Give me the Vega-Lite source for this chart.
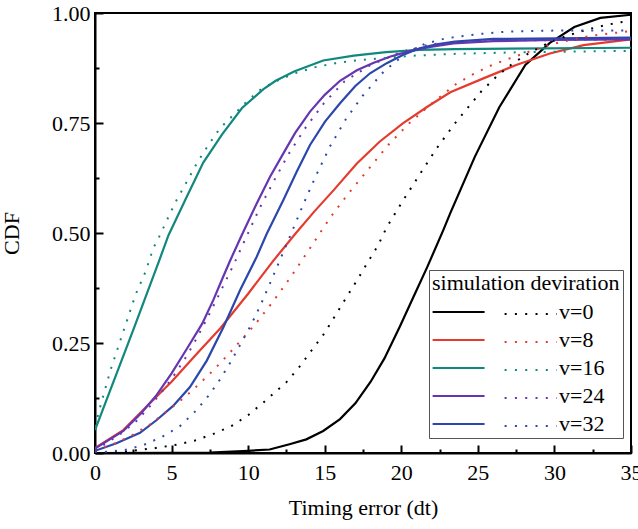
{
  "$schema": "https://vega.github.io/schema/vega-lite/v6.json",
  "width": 536,
  "height": 440,
  "autosize": {"type": "none"},
  "padding": {"left": 95, "top": 13, "right": 7, "bottom": 76},
  "background": "white",
  "config": {
    "font": "Liberation Serif",
    "view": {"stroke": "black", "strokeWidth": 2},
    "axis": {
      "domainColor": "black", "domainWidth": 2,
      "tickColor": "black", "tickWidth": 2,
      "labelFont": "Liberation Serif", "labelFontSize": 22, "labelColor": "black",
      "titleFont": "Liberation Serif", "titleFontSize": 22, "titleFontWeight": "normal", "titleColor": "black",
      "grid": false, "labelFlush": false, "labelOverlap": false
    },
    "legend": {
      "labelFont": "Liberation Serif", "labelFontSize": 22, "labelColor": "black",
      "titleFont": "Liberation Serif", "titleFontSize": 22, "titleFontWeight": "normal", "titleColor": "black",
      "titleLimit": 400, "labelLimit": 200
    }
  },
  "data": {"values": [
    {"x":0,"y":0,"v":"v=0","k":"sim"},{"x":5,"y":0.0005,"v":"v=0","k":"sim"},{"x":7.5,"y":0.001,"v":"v=0","k":"sim"},{"x":10,"y":0.005,"v":"v=0","k":"sim"},{"x":11.4,"y":0.008,"v":"v=0","k":"sim"},{"x":12.7,"y":0.02,"v":"v=0","k":"sim"},{"x":13.8,"y":0.031,"v":"v=0","k":"sim"},{"x":14.9,"y":0.05,"v":"v=0","k":"sim"},{"x":16,"y":0.077,"v":"v=0","k":"sim"},{"x":17,"y":0.113,"v":"v=0","k":"sim"},{"x":18,"y":0.162,"v":"v=0","k":"sim"},{"x":18.9,"y":0.215,"v":"v=0","k":"sim"},{"x":19.9,"y":0.287,"v":"v=0","k":"sim"},{"x":20.8,"y":0.355,"v":"v=0","k":"sim"},{"x":21.7,"y":0.423,"v":"v=0","k":"sim"},{"x":22.75,"y":0.507,"v":"v=0","k":"sim"},{"x":23.2,"y":0.545,"v":"v=0","k":"sim"},{"x":24.8,"y":0.673,"v":"v=0","k":"sim"},{"x":26.4,"y":0.786,"v":"v=0","k":"sim"},{"x":28.1,"y":0.882,"v":"v=0","k":"sim"},{"x":29.7,"y":0.932,"v":"v=0","k":"sim"},{"x":31.3,"y":0.968,"v":"v=0","k":"sim"},{"x":33,"y":0.989,"v":"v=0","k":"sim"},{"x":35,"y":0.996,"v":"v=0","k":"sim"},

    {"x":0,"y":0,"v":"v=0","k":"dev"},{"x":2,"y":0.003,"v":"v=0","k":"dev"},{"x":3.9,"y":0.011,"v":"v=0","k":"dev"},{"x":5.2,"y":0.018,"v":"v=0","k":"dev"},{"x":6.5,"y":0.028,"v":"v=0","k":"dev"},{"x":7.7,"y":0.043,"v":"v=0","k":"dev"},{"x":8.9,"y":0.061,"v":"v=0","k":"dev"},{"x":10,"y":0.086,"v":"v=0","k":"dev"},{"x":11,"y":0.115,"v":"v=0","k":"dev"},{"x":12.5,"y":0.161,"v":"v=0","k":"dev"},{"x":13.4,"y":0.198,"v":"v=0","k":"dev"},{"x":14.2,"y":0.236,"v":"v=0","k":"dev"},{"x":15,"y":0.273,"v":"v=0","k":"dev"},{"x":15.7,"y":0.313,"v":"v=0","k":"dev"},{"x":16.4,"y":0.353,"v":"v=0","k":"dev"},{"x":17.1,"y":0.392,"v":"v=0","k":"dev"},{"x":17.8,"y":0.433,"v":"v=0","k":"dev"},{"x":18.5,"y":0.473,"v":"v=0","k":"dev"},{"x":19.05,"y":0.513,"v":"v=0","k":"dev"},{"x":20.1,"y":0.573,"v":"v=0","k":"dev"},{"x":21.2,"y":0.633,"v":"v=0","k":"dev"},{"x":22.3,"y":0.692,"v":"v=0","k":"dev"},{"x":23.5,"y":0.749,"v":"v=0","k":"dev"},{"x":24.4,"y":0.787,"v":"v=0","k":"dev"},{"x":25.25,"y":0.823,"v":"v=0","k":"dev"},{"x":26.2,"y":0.855,"v":"v=0","k":"dev"},{"x":27.3,"y":0.886,"v":"v=0","k":"dev"},{"x":28.4,"y":0.91,"v":"v=0","k":"dev"},{"x":29.65,"y":0.933,"v":"v=0","k":"dev"},{"x":30.8,"y":0.948,"v":"v=0","k":"dev"},{"x":32.1,"y":0.962,"v":"v=0","k":"dev"},{"x":33.4,"y":0.973,"v":"v=0","k":"dev"},{"x":35,"y":0.983,"v":"v=0","k":"dev"},

    {"x":0,"y":0.011,"v":"v=8","k":"sim"},{"x":1.85,"y":0.052,"v":"v=8","k":"sim"},{"x":3.5,"y":0.11,"v":"v=8","k":"sim"},{"x":5,"y":0.162,"v":"v=8","k":"sim"},{"x":6.5,"y":0.22,"v":"v=8","k":"sim"},{"x":8.2,"y":0.284,"v":"v=8","k":"sim"},{"x":10,"y":0.362,"v":"v=8","k":"sim"},{"x":11.6,"y":0.435,"v":"v=8","k":"sim"},{"x":13,"y":0.495,"v":"v=8","k":"sim"},{"x":14.3,"y":0.548,"v":"v=8","k":"sim"},{"x":15.6,"y":0.598,"v":"v=8","k":"sim"},{"x":17.1,"y":0.658,"v":"v=8","k":"sim"},{"x":18.6,"y":0.708,"v":"v=8","k":"sim"},{"x":20.1,"y":0.749,"v":"v=8","k":"sim"},{"x":21.7,"y":0.787,"v":"v=8","k":"sim"},{"x":23.2,"y":0.82,"v":"v=8","k":"sim"},{"x":25.4,"y":0.852,"v":"v=8","k":"sim"},{"x":27.5,"y":0.882,"v":"v=8","k":"sim"},{"x":29.7,"y":0.908,"v":"v=8","k":"sim"},{"x":31.9,"y":0.927,"v":"v=8","k":"sim"},{"x":35,"y":0.94,"v":"v=8","k":"sim"},

    {"x":0,"y":0.005,"v":"v=8","k":"dev"},{"x":1.2,"y":0.02,"v":"v=8","k":"dev"},{"x":2.4,"y":0.04,"v":"v=8","k":"dev"},{"x":3.6,"y":0.065,"v":"v=8","k":"dev"},{"x":4.7,"y":0.095,"v":"v=8","k":"dev"},{"x":5.8,"y":0.125,"v":"v=8","k":"dev"},{"x":6.75,"y":0.155,"v":"v=8","k":"dev"},{"x":7.7,"y":0.187,"v":"v=8","k":"dev"},{"x":8.6,"y":0.22,"v":"v=8","k":"dev"},{"x":9.5,"y":0.255,"v":"v=8","k":"dev"},{"x":10.4,"y":0.29,"v":"v=8","k":"dev"},{"x":11.6,"y":0.343,"v":"v=8","k":"dev"},{"x":12.8,"y":0.401,"v":"v=8","k":"dev"},{"x":13.9,"y":0.458,"v":"v=8","k":"dev"},{"x":14.65,"y":0.498,"v":"v=8","k":"dev"},{"x":15.4,"y":0.537,"v":"v=8","k":"dev"},{"x":16.6,"y":0.592,"v":"v=8","k":"dev"},{"x":17.9,"y":0.647,"v":"v=8","k":"dev"},{"x":19.15,"y":0.7,"v":"v=8","k":"dev"},{"x":20.5,"y":0.749,"v":"v=8","k":"dev"},{"x":22.05,"y":0.796,"v":"v=8","k":"dev"},{"x":23.6,"y":0.839,"v":"v=8","k":"dev"},{"x":24.8,"y":0.863,"v":"v=8","k":"dev"},{"x":26,"y":0.883,"v":"v=8","k":"dev"},{"x":27.25,"y":0.899,"v":"v=8","k":"dev"},{"x":28.5,"y":0.914,"v":"v=8","k":"dev"},{"x":29.8,"y":0.929,"v":"v=8","k":"dev"},{"x":31.7,"y":0.944,"v":"v=8","k":"dev"},{"x":33,"y":0.951,"v":"v=8","k":"dev"},{"x":35,"y":0.959,"v":"v=8","k":"dev"},

    {"x":0,"y":0.052,"v":"v=16","k":"sim"},{"x":2.5,"y":0.28,"v":"v=16","k":"sim"},{"x":4.24,"y":0.442,"v":"v=16","k":"sim"},{"x":4.8,"y":0.495,"v":"v=16","k":"sim"},{"x":6,"y":0.583,"v":"v=16","k":"sim"},{"x":7.07,"y":0.66,"v":"v=16","k":"sim"},{"x":8.3,"y":0.724,"v":"v=16","k":"sim"},{"x":9.6,"y":0.784,"v":"v=16","k":"sim"},{"x":11,"y":0.827,"v":"v=16","k":"sim"},{"x":11.8,"y":0.846,"v":"v=16","k":"sim"},{"x":13,"y":0.867,"v":"v=16","k":"sim"},{"x":14.9,"y":0.892,"v":"v=16","k":"sim"},{"x":16.9,"y":0.903,"v":"v=16","k":"sim"},{"x":19,"y":0.911,"v":"v=16","k":"sim"},{"x":21.2,"y":0.916,"v":"v=16","k":"sim"},{"x":23.5,"y":0.918,"v":"v=16","k":"sim"},{"x":35,"y":0.921,"v":"v=16","k":"sim"},

    {"x":0,"y":0.06,"v":"v=16","k":"dev"},{"x":0.3,"y":0.1,"v":"v=16","k":"dev"},{"x":1,"y":0.187,"v":"v=16","k":"dev"},{"x":1.85,"y":0.276,"v":"v=16","k":"dev"},{"x":2.65,"y":0.36,"v":"v=16","k":"dev"},{"x":3.3,"y":0.412,"v":"v=16","k":"dev"},{"x":3.8,"y":0.465,"v":"v=16","k":"dev"},{"x":4.24,"y":0.495,"v":"v=16","k":"dev"},{"x":4.8,"y":0.537,"v":"v=16","k":"dev"},{"x":5.33,"y":0.575,"v":"v=16","k":"dev"},{"x":6,"y":0.617,"v":"v=16","k":"dev"},{"x":6.64,"y":0.658,"v":"v=16","k":"dev"},{"x":7.4,"y":0.7,"v":"v=16","k":"dev"},{"x":8.16,"y":0.738,"v":"v=16","k":"dev"},{"x":9.03,"y":0.768,"v":"v=16","k":"dev"},{"x":10,"y":0.802,"v":"v=16","k":"dev"},{"x":10.77,"y":0.825,"v":"v=16","k":"dev"},{"x":11.75,"y":0.844,"v":"v=16","k":"dev"},{"x":13.06,"y":0.863,"v":"v=16","k":"dev"},{"x":14.4,"y":0.877,"v":"v=16","k":"dev"},{"x":15.7,"y":0.886,"v":"v=16","k":"dev"},{"x":17,"y":0.892,"v":"v=16","k":"dev"},{"x":18.3,"y":0.896,"v":"v=16","k":"dev"},{"x":20.8,"y":0.903,"v":"v=16","k":"dev"},{"x":23.4,"y":0.907,"v":"v=16","k":"dev"},{"x":28,"y":0.911,"v":"v=16","k":"dev"},{"x":35,"y":0.914,"v":"v=16","k":"dev"},

    {"x":0,"y":0.01,"v":"v=24","k":"sim"},{"x":1.85,"y":0.05,"v":"v=24","k":"sim"},{"x":3,"y":0.09,"v":"v=24","k":"sim"},{"x":4.03,"y":0.132,"v":"v=24","k":"sim"},{"x":5,"y":0.181,"v":"v=24","k":"sim"},{"x":6,"y":0.237,"v":"v=24","k":"sim"},{"x":7,"y":0.294,"v":"v=24","k":"sim"},{"x":7.73,"y":0.348,"v":"v=24","k":"sim"},{"x":8.3,"y":0.395,"v":"v=24","k":"sim"},{"x":8.82,"y":0.437,"v":"v=24","k":"sim"},{"x":9.58,"y":0.495,"v":"v=24","k":"sim"},{"x":10.56,"y":0.567,"v":"v=24","k":"sim"},{"x":11.43,"y":0.628,"v":"v=24","k":"sim"},{"x":12.3,"y":0.681,"v":"v=24","k":"sim"},{"x":13.06,"y":0.727,"v":"v=24","k":"sim"},{"x":14.04,"y":0.776,"v":"v=24","k":"sim"},{"x":15,"y":0.814,"v":"v=24","k":"sim"},{"x":16,"y":0.846,"v":"v=24","k":"sim"},{"x":17.1,"y":0.87,"v":"v=24","k":"sim"},{"x":18.2,"y":0.887,"v":"v=24","k":"sim"},{"x":19.3,"y":0.901,"v":"v=24","k":"sim"},{"x":20.6,"y":0.914,"v":"v=24","k":"sim"},{"x":21.9,"y":0.923,"v":"v=24","k":"sim"},{"x":23.4,"y":0.931,"v":"v=24","k":"sim"},{"x":26,"y":0.936,"v":"v=24","k":"sim"},{"x":30,"y":0.939,"v":"v=24","k":"sim"},{"x":35,"y":0.94,"v":"v=24","k":"sim"},

    {"x":0,"y":0.005,"v":"v=24","k":"dev"},{"x":1.74,"y":0.045,"v":"v=24","k":"dev"},{"x":2.72,"y":0.073,"v":"v=24","k":"dev"},{"x":3.63,"y":0.108,"v":"v=24","k":"dev"},{"x":4.46,"y":0.143,"v":"v=24","k":"dev"},{"x":5.29,"y":0.183,"v":"v=24","k":"dev"},{"x":6.03,"y":0.223,"v":"v=24","k":"dev"},{"x":6.68,"y":0.263,"v":"v=24","k":"dev"},{"x":7.29,"y":0.304,"v":"v=24","k":"dev"},{"x":7.9,"y":0.346,"v":"v=24","k":"dev"},{"x":8.49,"y":0.388,"v":"v=24","k":"dev"},{"x":9.08,"y":0.43,"v":"v=24","k":"dev"},{"x":9.64,"y":0.473,"v":"v=24","k":"dev"},{"x":10.77,"y":0.558,"v":"v=24","k":"dev"},{"x":11.69,"y":0.619,"v":"v=24","k":"dev"},{"x":12.67,"y":0.681,"v":"v=24","k":"dev"},{"x":13.76,"y":0.74,"v":"v=24","k":"dev"},{"x":14.95,"y":0.795,"v":"v=24","k":"dev"},{"x":16.3,"y":0.845,"v":"v=24","k":"dev"},{"x":18,"y":0.882,"v":"v=24","k":"dev"},{"x":19.9,"y":0.91,"v":"v=24","k":"dev"},{"x":21.9,"y":0.929,"v":"v=24","k":"dev"},{"x":25,"y":0.937,"v":"v=24","k":"dev"},{"x":35,"y":0.94,"v":"v=24","k":"dev"},

    {"x":0,"y":0.005,"v":"v=32","k":"sim"},{"x":1.4,"y":0.022,"v":"v=32","k":"sim"},{"x":2.94,"y":0.046,"v":"v=32","k":"sim"},{"x":4.03,"y":0.075,"v":"v=32","k":"sim"},{"x":5.1,"y":0.107,"v":"v=32","k":"sim"},{"x":6.2,"y":0.15,"v":"v=32","k":"sim"},{"x":7.3,"y":0.21,"v":"v=32","k":"sim"},{"x":8.4,"y":0.287,"v":"v=32","k":"sim"},{"x":9.47,"y":0.37,"v":"v=32","k":"sim"},{"x":10.56,"y":0.446,"v":"v=32","k":"sim"},{"x":11.2,"y":0.497,"v":"v=32","k":"sim"},{"x":12.3,"y":0.575,"v":"v=32","k":"sim"},{"x":13.17,"y":0.639,"v":"v=32","k":"sim"},{"x":14.04,"y":0.7,"v":"v=32","k":"sim"},{"x":15.02,"y":0.753,"v":"v=32","k":"sim"},{"x":16,"y":0.795,"v":"v=32","k":"sim"},{"x":17,"y":0.834,"v":"v=32","k":"sim"},{"x":17.96,"y":0.863,"v":"v=32","k":"sim"},{"x":19.05,"y":0.886,"v":"v=32","k":"sim"},{"x":20.13,"y":0.905,"v":"v=32","k":"sim"},{"x":21.2,"y":0.92,"v":"v=32","k":"sim"},{"x":22.3,"y":0.929,"v":"v=32","k":"sim"},{"x":23.5,"y":0.935,"v":"v=32","k":"sim"},{"x":26,"y":0.941,"v":"v=32","k":"sim"},{"x":35,"y":0.944,"v":"v=32","k":"sim"},

    {"x":0,"y":0,"v":"v=32","k":"dev"},{"x":1.96,"y":0.007,"v":"v=32","k":"dev"},{"x":3.16,"y":0.018,"v":"v=32","k":"dev"},{"x":4.4,"y":0.037,"v":"v=32","k":"dev"},{"x":5.55,"y":0.061,"v":"v=32","k":"dev"},{"x":6.53,"y":0.094,"v":"v=32","k":"dev"},{"x":7.41,"y":0.13,"v":"v=32","k":"dev"},{"x":8.16,"y":0.167,"v":"v=32","k":"dev"},{"x":8.88,"y":0.208,"v":"v=32","k":"dev"},{"x":9.53,"y":0.249,"v":"v=32","k":"dev"},{"x":10.19,"y":0.291,"v":"v=32","k":"dev"},{"x":10.77,"y":0.333,"v":"v=32","k":"dev"},{"x":11.57,"y":0.397,"v":"v=32","k":"dev"},{"x":12.63,"y":0.484,"v":"v=32","k":"dev"},{"x":13.65,"y":0.569,"v":"v=32","k":"dev"},{"x":14.48,"y":0.634,"v":"v=32","k":"dev"},{"x":15.35,"y":0.697,"v":"v=32","k":"dev"},{"x":16.37,"y":0.758,"v":"v=32","k":"dev"},{"x":17.48,"y":0.812,"v":"v=32","k":"dev"},{"x":18.83,"y":0.866,"v":"v=32","k":"dev"},{"x":20.35,"y":0.91,"v":"v=32","k":"dev"},{"x":21.55,"y":0.93,"v":"v=32","k":"dev"},{"x":22.85,"y":0.942,"v":"v=32","k":"dev"},{"x":25,"y":0.952,"v":"v=32","k":"dev"},{"x":27,"y":0.958,"v":"v=32","k":"dev"},{"x":30,"y":0.96,"v":"v=32","k":"dev"},{"x":35,"y":0.96,"v":"v=32","k":"dev"}
  ]},
  "encoding": {
    "x": {
      "field": "x", "type": "quantitative",
      "scale": {"domain": [0, 35], "nice": false, "zero": false},
      "axis": {
        "title": "Timing error (dt)",
        "values": [0,2.5,5,7.5,10,12.5,15,17.5,20,22.5,25,27.5,30,32.5,35],
        "labelExpr": "datum.value % 5 === 0 ? format(datum.value, 'd') : ''",
        "tickSize": {"condition": {"test": "datum.value % 5 === 0", "value": -8}, "value": -4},
        "labelPadding": 17,
        "titlePadding": 10
      }
    },
    "y": {
      "field": "y", "type": "quantitative",
      "scale": {"domain": [0, 1], "nice": false, "zero": false},
      "axis": {
        "title": "CDF",
        "values": [0,0.125,0.25,0.375,0.5,0.625,0.75,0.875,1],
        "labelExpr": "(datum.value * 4) % 1 === 0 ? format(datum.value, '.2f') : ''",
        "tickSize": {"condition": {"test": "(datum.value * 4) % 1 === 0", "value": -8}, "value": -4},
        "labelPadding": 13,
        "titlePadding": 28
      }
    }
  },
  "layer": [
    {
      "transform": [{"filter": "datum.k === 'sim'"}],
      "mark": {"type": "line", "strokeWidth": 2.2, "clip": true},
      "encoding": {
        "color": {
          "field": "v", "type": "nominal",
          "scale": {"domain": ["v=0","v=8","v=16","v=24","v=32"], "range": ["#000000","#e53a2e","#10887e","#6636b0","#2b47ad"]},
          "legend": {
            "orient": "none", "legendX": 334, "legendY": 257,
            "title": "simulation deviration",
            "strokeColor": "#555555", "padding": 3,
            "symbolType": "M-2,0H8", "symbolSize": 108, "symbolStrokeWidth": 2,
            "labelOffset": 105, "rowPadding": 6, "titlePadding": 6
          }
        }
      }
    },
    {
      "transform": [{"filter": "datum.k === 'dev'"}],
      "mark": {"type": "line", "strokeWidth": 2, "strokeDash": [2, 8], "clip": true},
      "encoding": {
        "color": {
          "field": "v", "type": "nominal",
          "scale": {"domain": ["v=0","v=8","v=16","v=24","v=32"], "range": ["#000000","#e53a2e","#10887e","#6636b0","#2b47ad"]},
          "legend": {
            "orient": "none", "legendX": 409, "legendY": 290,
            "title": null, "padding": 0,
            "symbolType": "M-2,0H8", "symbolSize": 108, "symbolStrokeWidth": 2, "symbolDash": [2, 8.3],
            "labelExpr": "''", "rowPadding": 6
          }
        }
      }
    }
  ],
  "resolve": {"scale": {"color": "independent"}}
}
